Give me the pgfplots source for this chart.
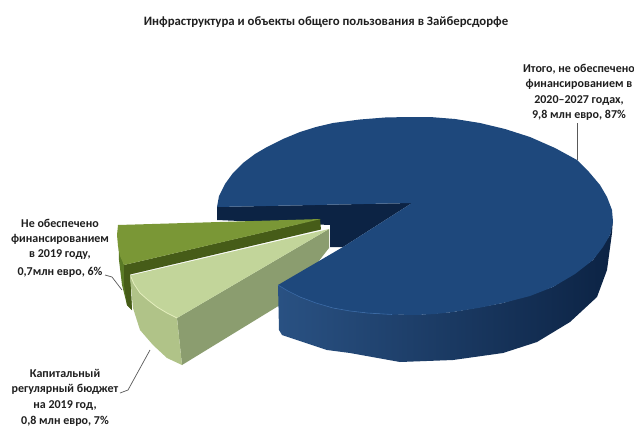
\documentclass[border=0pt]{standalone}
\usepackage{fontspec}
\setmainfont{Carlito}
\usepackage{pgfplots}
\pgfplotsset{compat=1.18}

\definecolor{blueTop}{HTML}{1E487C}
\definecolor{blueDark}{HTML}{0C2344}
\definecolor{blueEdge}{HTML}{3A6AA6}
\definecolor{oliveTop}{HTML}{7A9736}
\definecolor{oliveWall}{HTML}{5A7A26}
\definecolor{oliveDark}{HTML}{465C18}
\definecolor{paleTop}{HTML}{C2D59A}
\definecolor{paleFront}{HTML}{B0C388}
\definecolor{paleSide}{HTML}{8B9D6F}
\definecolor{paleEdge}{HTML}{E4EEBD}
\definecolor{inkc}{HTML}{1F1F1F}
\definecolor{leader}{HTML}{595959}

\tikzset{
    lbl/.style={font=\fontsize{12}{14}\selectfont\bfseries, text=inkc, inner sep=0pt, anchor=center},
    ttl/.style={font=\fontsize{12.8}{15}\selectfont\bfseries, text=inkc, inner sep=0pt, anchor=center},
}

\begin{document}
\begin{tikzpicture}
\begin{axis}[
    scale only axis, width=634pt, height=426pt,
    xmin=0, xmax=634, ymin=0, ymax=426, y dir=reverse,
    axis lines=none, clip=true,
    axis background/.style={fill=white},
    every axis plot/.append style={no markers},
]
% inner wall of the big slice
\addplot[draw=none, fill=blueDark] coordinates {(217,207) (412,203) (343,247) (330,247) (330,225) (217,220)} --cycle;

% dark green slice
\addplot[draw=none, fill=oliveWall] coordinates {(118,225) (119,247) (124,265) (130,273) (132,310) (127,305) (122,285) (119,260)} --cycle;
\addplot[draw=none, fill=oliveDark] coordinates {(124,265) (320,219) (321,229.5) (130,274.5) (132,310) (127,305) (124,285)} --cycle;
\addplot[draw=none, fill=oliveTop] coordinates {(118,225) (321,219) (124,265) (120,256) (118,246) (117,235)} --cycle;

% pale green slice
\addplot[draw=none, fill=paleSide] coordinates {(177,318) (329,229) (329,248) (300,285) (280,305) (182,365)} --cycle;
\addplot[draw=none, fill=paleFront] coordinates {(130,275.5) (140,293) (157,307) (177,318) (182,365) (167,358) (153,345) (140,330) (133,308)} --cycle;
\addplot[draw=none, fill=paleTop] coordinates {(329,229) (130,275.5) (134,284) (140,293) (148,300) (157,307) (167,313) (177,318)} --cycle;
\addplot[paleEdge, line width=0.8pt] coordinates {(131,277) (134,284) (140,293) (148,300) (157,307) (167,313) (177,318)};

% big slice, side and top
\addplot[draw=none, left color=blueTop!95!white, middle color=blueDark!85!blueTop, right color=blueDark] coordinates {
    (278,285) (300,297) (333,308) (367,313) (417,315) (453,312) (503,303) (553,287) (593,260) (610,235) (613,218)
    (612,233) (607,270) (597,297) (570,322) (537,342) (503,353) (453,360) (400,362) (350,353) (327,350) (282,335) (279,330)} --cycle;
\addplot[draw=none, fill=blueTop] coordinates {
    (412,203) (217,207) (219,196) (225,184) (233,173) (243,163) (255,154) (267,147) (283,139) (300,132) (316,127)
    (333,123) (360,119.5) (385,117.5) (408,117) (430,117) (455,119) (480,123) (505,129) (530,137) (555,148) (577,160)
    (589,172) (600,185) (607,197) (612,210) (613,222) (610,235) (603,247) (593,260) (575,274) (553,287) (530,296)
    (503,303) (478,308) (453,312) (435,314) (417,315) (392,314.5) (367,313) (350,311) (333,308) (316,303) (300,297)
    (288,291) (278,285) (343,247)} --cycle;
\addplot[blueEdge, line width=0.6pt] coordinates {(278,285) (288,291) (300,297) (316,303) (333,308) (350,311) (367,313) (392,314.5)};

% leader lines
\addplot[leader, line width=0.7pt] coordinates {(577,123) (577,160)};
\addplot[leader, line width=0.7pt] coordinates {(105,275) (112,277) (122,290)};
\addplot[leader, line width=0.7pt] coordinates {(120,393) (128,390) (150,350)};

% texts
\node[ttl] at (axis cs:326,22) {Инфраструктура и объекты общего пользования в Зайберсдорфе};
\node[lbl] at (axis cs:579,69) {Итого, не обеспечено};
\node[lbl] at (axis cs:579,84) {финансированием в};
\node[lbl] at (axis cs:579,101) {2020–2027 годах,};
\node[lbl] at (axis cs:579,115) {9,8 млн евро, 87\%};
\node[lbl] at (axis cs:60,223) {Не обеспечено};
\node[lbl] at (axis cs:60,239) {финансированием};
\node[lbl] at (axis cs:60,255) {в 2019 году,};
\node[lbl] at (axis cs:60,272) {0,7млн евро, 6\%};
\node[lbl] at (axis cs:65,373) {Капитальный};
\node[lbl] at (axis cs:65,389) {регулярный бюджет};
\node[lbl] at (axis cs:65,406) {на 2019 год,};
\node[lbl] at (axis cs:65,421) {0,8 млн евро, 7\%};
\end{axis}
\end{tikzpicture}
\end{document}
